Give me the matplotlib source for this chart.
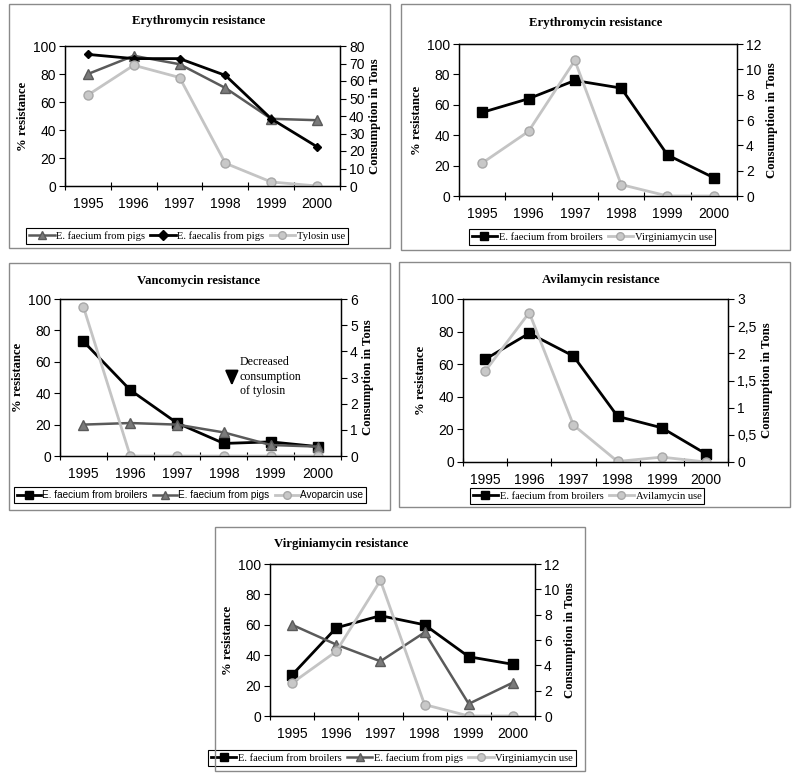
import numpy as np
import matplotlib
matplotlib.use('Agg')
import matplotlib.pyplot as plt
from matplotlib.patches import Rectangle
from matplotlib.ticker import FuncFormatter, MultipleLocator, FixedLocator

years = ['1995', '1996', '1997', '1998', '1999', '2000']

# Erythromycin resistance, pigs
ery_faecium_pigs = [80, 93, 87, 70, 48, 47]
ery_faecalis_pigs = [94, 91, 91, 79, 48, 28]
tylosin_use = [52, 69, 62, 13, 2.3, 0]

# Erythromycin resistance, broilers
ery_faecium_broilers = [55, 64, 76, 71, 27, 12]
virginiamycin_use = [2.6, 5.1, 10.7, 0.9, 0, 0]

# Vancomycin resistance
van_broilers = [73, 42, 21, 8, 9, 6]
van_pigs = [20, 21, 20, 15, 7, 6]
avoparcin_use = [5.7, 0, 0, 0, 0, 0]

# Avilamycin resistance
avi_broilers = [63, 79, 65, 28, 21, 5]
avilamycin_use = [1.67, 2.75, 0.68, 0.01, 0.09, 0]

# Virginiamycin resistance
vir_broilers = [27, 58, 66, 60, 39, 34]
vir_pigs = [60, 47, 36, 55, 8, 22]

W, H = 797, 774
fig = plt.figure(figsize=(W / 100, H / 100), dpi=100)
fig.patch.set_facecolor('white')

SERIF = 'Liberation Serif'
SANS = 'Liberation Sans'

# line styles
black_sq = dict(color='black', lw=2.0, marker='s', ms=6.5, mfc='black', mec='black')
black_dia = dict(color='black', lw=2.0, marker='D', ms=4.5, mfc='black', mec='black')
gray_tri = dict(color='#5a5a5a', lw=1.8, marker='^', ms=7.5, mfc='#7a7a7a', mec='#5a5a5a')
light_circ = dict(color='#c4c4c4', lw=2.0, marker='o', ms=6.5, mfc='#c8c8c8', mec='#a8a8a8')


def box(l, t, r, b):
    fig.patches.append(Rectangle((l / W, 1 - b / H), (r - l) / W, (b - t) / H,
                                 transform=fig.transFigure, fill=False,
                                 edgecolor='#8a8a8a', lw=1.0))


def panel(axpx, title, title_xy, left_series, right_series, rmax, rstep,
          leg_xy, leg_font, rfmt=None):
    l, t, r, b = axpx
    ax = fig.add_axes([l / W, 1 - b / H, (r - l) / W, (b - t) / H])
    x = np.arange(len(years))
    handles = []
    for vals, label, st in left_series:
        h, = ax.plot(x, vals, label=label, **st)
        handles.append(h)
    ax.set_xlim(-0.5, len(years) - 0.5)
    ax.set_ylim(0, 100)
    ax.yaxis.set_major_locator(MultipleLocator(20))
    ax.xaxis.set_major_locator(FixedLocator(np.arange(-0.5, len(years), 1.0)))
    ax.xaxis.set_major_formatter(FuncFormatter(lambda v, p: ''))
    ax.xaxis.set_minor_locator(FixedLocator(x))
    ax.set_xticklabels(years, minor=True)
    ax.tick_params(axis='x', which='major', direction='inout', length=6, width=0.8)
    ax.tick_params(axis='x', which='minor', length=0, pad=8, labelsize=10)
    ax.tick_params(axis='y', direction='out', length=4, width=0.8, labelsize=10, pad=2.5)
    for lab in ax.get_xticklabels(minor=True) + ax.get_yticklabels():
        lab.set_fontfamily(SANS)
    ax.set_ylabel('% resistance', fontfamily=SERIF, fontweight='bold', fontsize=9.2, labelpad=3)

    ax2 = ax.twinx()
    for vals, label, st in right_series:
        h, = ax2.plot(x, vals, label=label, **st)
        handles.append(h)
    ax2.set_ylim(0, rmax)
    ax2.yaxis.set_major_locator(MultipleLocator(rstep))
    if rfmt is not None:
        ax2.yaxis.set_major_formatter(FuncFormatter(rfmt))
    ax2.tick_params(axis='y', direction='out', length=4, width=0.8, labelsize=10, pad=2.5)
    for lab in ax2.get_yticklabels():
        lab.set_fontfamily(SANS)
    ax2.set_ylabel('Consumption in Tons', fontfamily=SERIF, fontweight='bold', fontsize=9.2, labelpad=3)
    for a in (ax, ax2):
        for s in a.spines.values():
            s.set_linewidth(0.9)

    fig.text(title_xy[0] / W, 1 - title_xy[1] / H, title, ha='center', va='center',
             fontfamily=SERIF, fontweight='bold', fontsize=9.2)

    leg = ax.legend(handles, [h.get_label() for h in handles], loc='center',
                    bbox_to_anchor=(leg_xy[0] / W, 1 - leg_xy[1] / H),
                    bbox_transform=fig.transFigure, ncol=len(handles),
                    frameon=True, fancybox=False, edgecolor='black', framealpha=1,
                    handlelength=2.4, handletextpad=0.15, columnspacing=0.5,
                    borderpad=0.3, borderaxespad=0,
                    prop={'family': leg_font, 'size': 7.6 if leg_font == SERIF else 7.2})
    leg.get_frame().set_linewidth(0.8)
    for lh in leg.legend_handles:
        lh.set_markersize(5.5)
    return ax, ax2


box(9, 4, 390, 248)
box(401, 4, 790, 250)
box(9, 263, 390, 510)
box(399, 262, 790, 507)
box(215, 527, 585, 771)

panel((65, 46, 340, 186), 'Erythromycin resistance', (199, 21),
      [(ery_faecium_pigs, 'E. faecium from pigs', gray_tri),
       (ery_faecalis_pigs, 'E. faecalis from pigs', black_dia)],
      [(tylosin_use, 'Tylosin use', light_circ)],
      80, 10, (187, 236), SERIF)

panel((459, 44, 737, 196), 'Erythromycin resistance', (596, 23),
      [(ery_faecium_broilers, 'E. faecium from broilers', black_sq)],
      [(virginiamycin_use, 'Virginiamycin use', light_circ)],
      12, 2, (592, 237), SERIF)

ax3, _ = panel((60, 299, 341, 456), 'Vancomycin resistance', (199, 281),
               [(van_broilers, 'E. faecium from broilers', black_sq),
                (van_pigs, 'E. faecium from pigs', gray_tri)],
               [(avoparcin_use, 'Avoparcin use', light_circ)],
               6, 1, (190, 495), SANS)
ax3.annotate('', xy=(3.17, 43), xytext=(3.17, 55),
             arrowprops=dict(arrowstyle='-|>,head_width=0.4,head_length=0.9',
                             color='black', lw=1.5, mutation_scale=10))
ax3.text(3.34, 50.6, 'Decreased\nconsumption\nof tylosin', ha='left', va='center',
         fontfamily=SERIF, fontsize=8.6, linespacing=1.25)

panel((463, 299, 728, 462), 'Avilamycin resistance', (601, 280),
      [(avi_broilers, 'E. faecium from broilers', black_sq)],
      [(avilamycin_use, 'Avilamycin use', light_circ)],
      3, 0.5, (587, 496), SERIF, rfmt=lambda v, p: f'{v:g}'.replace('.', ','))

panel((270, 564, 535, 716), 'Virginiamycin resistance', (341, 544),
      [(vir_broilers, 'E. faecium from broilers', black_sq),
       (vir_pigs, 'E. faecium from pigs', gray_tri)],
      [(virginiamycin_use, 'Virginiamycin use', light_circ)],
      12, 2, (392, 758), SERIF)

fig.savefig('out.png', dpi=100)
